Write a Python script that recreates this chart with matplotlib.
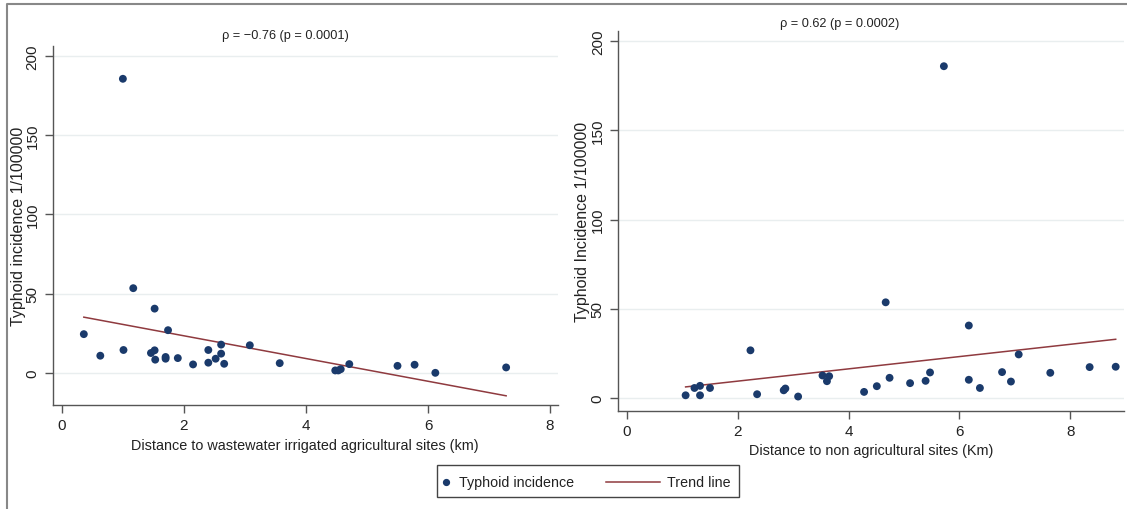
import matplotlib
matplotlib.use("Agg")
import matplotlib.pyplot as plt
from matplotlib.lines import Line2D
from matplotlib.patches import Rectangle
import numpy as np

plt.rcParams['font.family'] = ['Liberation Sans', 'DejaVu Sans']

# ---- data ----
left_x = [0.36, 0.63, 1.01, 1.00, 1.17, 1.46, 1.52, 1.52, 1.53, 1.70, 1.70, 1.74, 1.90,
          2.15, 2.40, 2.40, 2.52, 2.61, 2.61, 2.66, 3.08, 3.57, 4.48, 4.53, 4.57, 4.71,
          5.50, 5.78, 6.12, 7.28]
left_y = [24.4, 10.8, 14.4, 185.5, 53.4, 12.5, 40.5, 14.2, 8.3, 10.0, 8.9, 26.9, 9.3,
          5.3, 14.4, 6.4, 8.9, 17.8, 12.1, 5.7, 17.4, 6.1, 1.5, 1.5, 2.3, 5.5,
          4.4, 5.1, 0.0, 3.4]
left_trend_intercept = 37.7
left_trend_slope = -7.17

right_x = [1.06, 1.22, 1.32, 1.32, 1.50, 2.23, 2.35, 2.83, 2.86, 3.09, 3.53, 3.61, 3.65,
           4.28, 4.51, 4.67, 4.74, 5.11, 5.39, 5.47, 5.72, 6.17, 6.17, 6.37, 6.77, 6.93,
           7.07, 7.64, 8.35, 8.82]
right_y = [1.5, 5.6, 6.8, 1.5, 5.6, 26.7, 2.1, 4.3, 5.3, 0.8, 12.6, 9.4, 12.2,
           3.4, 6.6, 53.6, 11.3, 8.3, 9.6, 14.3, 185.9, 40.6, 10.2, 5.6, 14.5, 9.2,
           24.4, 14.1, 17.3, 17.5]
right_trend_intercept = 2.55
right_trend_slope = 3.44

x_ticks_left = [0, 2, 4, 6, 8]
x_ticks_right = [0, 2, 4, 6, 8]
y_ticks = [0, 50, 100, 150, 200]

left_title = "ρ = −0.76 (p = 0.0001)"
right_title = "ρ = 0.62 (p = 0.0002)"
left_xlabel = "Distance to wastewater irrigated agricultural sites (km)"
right_xlabel = "Distance to non agricultural sites (Km)"
left_ylabel = "Typhoid incidence 1/100000"
right_ylabel = "Typhoid Incidence 1/100000"
legend_labels = ["Typhoid incidence", "Trend line"]

# ---- style ----
W, H = 1127, 510
DOT = "#1a3a6b"
TREND = "#8f3a3f"
GRID = "#e9eeef"
AX = "#555555"
TXT = "#222222"

fig = plt.figure(figsize=(W / 100, H / 100), dpi=100)
fig.patch.set_facecolor("white")


def px_rect(x0, x1, ytop, ybot):
    return [x0 / W, 1 - ybot / H, (x1 - x0) / W, (ybot - ytop) / H]


def style(ax, xs, ys, slope, icpt, xlim, ylim, xticks, xlabel, ylabel,
          xlab_pos, ylab_pos):
    ax.scatter(xs, ys, s=32, color=DOT, edgecolors="none", zorder=3)
    tx = np.array([min(xs), max(xs)])
    ax.plot(tx, icpt + slope * tx, color=TREND, lw=1.1, zorder=2)
    ax.set_xlim(*xlim)
    ax.set_ylim(*ylim)
    ax.set_xticks(xticks)
    ax.set_yticks(y_ticks)
    ax.grid(axis="y", color=GRID, lw=1.0, zorder=0)
    ax.set_axisbelow(True)
    for s in ("top", "right"):
        ax.spines[s].set_visible(False)
    for s in ("left", "bottom"):
        ax.spines[s].set_color(AX)
        ax.spines[s].set_linewidth(1.0)
    ax.tick_params(axis="both", colors=AX, length=5.5, width=1.0, labelsize=11,
                   labelcolor=TXT)
    ax.tick_params(axis="x", pad=4)
    ax.tick_params(axis="y", pad=4)
    for lab in ax.get_yticklabels():
        lab.set_rotation(90)
        lab.set_va("center")
    ax.set_xlabel(xlabel, fontsize=10.4, color=TXT)
    ax.set_ylabel(ylabel, fontsize=11.5, color=TXT)
    ax.xaxis.set_label_coords(*xlab_pos)
    ax.xaxis.label.set_va("center")
    ax.yaxis.set_label_coords(*ylab_pos)
    ax.yaxis.label.set_va("center")


# left panel: axes box spans x 52.7..558 px, y 47.3..406 px
ax1 = fig.add_axes(px_rect(52.7, 558, 47.3, 406))
style(ax1, left_x, left_y, left_trend_slope, left_trend_intercept,
      (-0.15, 8.13), (-20.3, 206), x_ticks_left, left_xlabel, left_ylabel,
      ((305 - 52.7) / 505.3, (406 - 446) / 358.7), ((19 - 52.7) / 505.3, 0.5))

# right panel: axes box spans x 618..1124 px, y 31.7..412 px
ax2 = fig.add_axes(px_rect(618, 1124, 31.7, 412))
style(ax2, right_x, right_y, right_trend_slope, right_trend_intercept,
      (-0.16, 8.97), (-7.3, 205.8), x_ticks_right, right_xlabel, right_ylabel,
      ((871 - 618) / 506, (412 - 451) / 380.3), ((583 - 618) / 506, 0.5))

fig.text(285 / W, 1 - 36 / H, left_title, ha="center", va="center", fontsize=9.2,
         color=TXT)
fig.text(840 / W, 1 - 24 / H, right_title, ha="center", va="center", fontsize=9.2,
         color=TXT)

# ---- legend (drawn manually to match Stata layout) ----
def fx(px):
    return px / W


def fy(py):
    return 1 - py / H


fig.add_artist(Rectangle((fx(437), fy(498)), fx(739) - fx(437), fy(466) - fy(498),
                         transform=fig.transFigure, fill=False, edgecolor="#444444",
                         lw=1.0))
ly = 483
fig.add_artist(Line2D([fx(446)], [fy(ly)], transform=fig.transFigure, ls="none",
                      marker="o", markersize=4.2, color=DOT))
fig.text(fx(459), fy(ly), legend_labels[0], ha="left", va="center", fontsize=10.3,
         color=TXT)
fig.add_artist(Line2D([fx(606), fx(660)], [fy(ly), fy(ly)], transform=fig.transFigure,
                      color=TREND, lw=1.1))
fig.text(fx(667), fy(ly), legend_labels[1], ha="left", va="center", fontsize=10.3,
         color=TXT)

# outer border (top and left visible)
fig.add_artist(Line2D([7 / W, 7 / W, 1.0], [0.0, 1 - 5 / H, 1 - 5 / H],
                      transform=fig.transFigure, color="#888888", lw=1.5))

fig.savefig("out.png", dpi=100)
